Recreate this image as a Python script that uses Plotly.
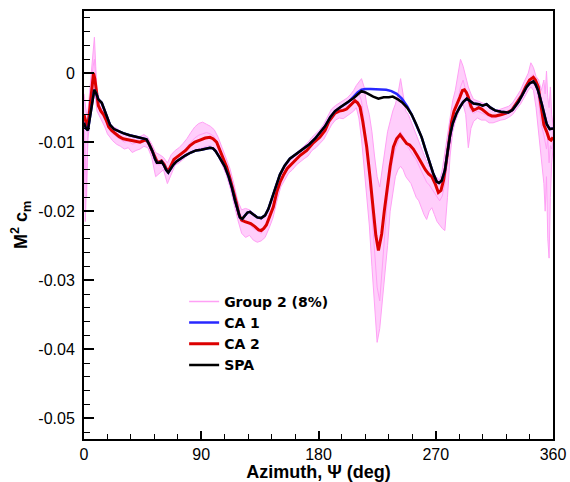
import plotly.graph_objects as go

# ---------------- data ----------------
SPA_AZ = [0, 1.5, 3, 4.5, 6, 7.9, 9.5, 11, 13.6, 16, 18, 20, 23, 26, 30, 35, 40, 45, 48, 50,
          52.5, 54.5, 56, 57.5, 59.5, 61.5, 63, 64.7, 66.5, 68.5, 71, 74, 78, 82, 86, 90, 93,
          96.7, 99, 101, 104, 108, 111, 113.4, 116, 118, 119.7, 121.5, 123.5, 125.5, 127.4,
          130, 133, 136, 139, 141.5, 144, 147, 150.4, 154, 158, 163, 168, 173, 177.3, 181,
          185, 189, 192.7, 197, 202.9, 207, 210, 213, 216, 218.5, 222, 226, 230, 234, 237,
          241, 244, 248, 251.5, 255, 259.2, 262, 265.6, 268, 270.7, 272.5, 274.5, 277, 279,
          281, 283, 286, 288.6, 291, 293.8, 296, 299, 303, 306, 309, 312, 315.5, 320, 325.7,
          329, 333.4, 337, 339.8, 342, 344.9, 346.5, 348.5, 351.3, 353.5, 355.2, 357.5, 360]
SPA_CM = [-0.0072, -0.0080, -0.0083, -0.0065, -0.0040, -0.0024, -0.0030, -0.0038, -0.0043,
          -0.0055, -0.0066, -0.0075, -0.0081, -0.0084, -0.0087, -0.0090, -0.0092, -0.0094,
          -0.0096, -0.0103, -0.0113, -0.0124, -0.0130, -0.0130, -0.0128, -0.0134, -0.0140,
          -0.0144, -0.0138, -0.0133, -0.0128, -0.0124, -0.0119, -0.0115, -0.0112, -0.0111,
          -0.0110, -0.0108, -0.0109, -0.0113, -0.0122, -0.0135, -0.0150, -0.0165, -0.0185,
          -0.0200, -0.0209, -0.0211, -0.0207, -0.0202, -0.0201, -0.0205, -0.0209, -0.0210,
          -0.0206, -0.0197, -0.0184, -0.0166, -0.0147, -0.0134, -0.0124, -0.0117, -0.0110,
          -0.0103, -0.0095, -0.0087, -0.0077, -0.0064, -0.0055, -0.0049, -0.0042, -0.0036,
          -0.0031, -0.0026, -0.0028, -0.0031, -0.0034, -0.0037, -0.0035, -0.0035, -0.0034,
          -0.0038, -0.0042, -0.0050, -0.0060, -0.0074, -0.0093, -0.0110, -0.0131, -0.0145,
          -0.0157, -0.0159, -0.0156, -0.0141, -0.0115, -0.0090, -0.0073, -0.0058, -0.0049,
          -0.0042, -0.0037, -0.0040, -0.0044, -0.0045, -0.0047, -0.0045, -0.0050, -0.0054,
          -0.0056, -0.0057, -0.0053, -0.0042, -0.0030, -0.0020, -0.0015, -0.0012, -0.0016,
          -0.0025, -0.0044, -0.0062, -0.0074, -0.0081, -0.0080]

CA1_AZ = [0, 1.5, 3, 4.5, 6, 7.9, 9.5, 11, 13.6, 16, 18, 20, 23, 26, 30, 35, 40, 45, 48, 50,
          52.5, 54.5, 56, 57.5, 59.5, 61.5, 63, 64.7, 66.5, 68.5, 71, 74, 78, 82, 86, 90, 93,
          96.7, 99, 101, 104, 108, 111, 113.4, 116, 118, 119.7, 121.5, 123.5, 125.5, 127.4,
          130, 133, 136, 139, 141.5, 144, 147, 150.4, 154, 158, 163, 168, 173, 177.3, 181,
          185, 189, 192.7, 197, 202.9, 207, 210, 213, 216, 220, 224, 228, 232, 236, 240,
          244, 248, 251.5, 255, 259.2, 262, 265.6, 268, 270.7, 272.5, 274.5, 277, 279,
          281, 283, 286, 288.6, 291, 293.8, 296, 299, 303, 306, 309, 312, 315.5, 320, 325.7,
          329, 333.4, 337, 339.8, 342, 344.9, 346.5, 348.5, 351.3, 353.5, 355.2, 357.5, 360]
CA1_CM = [-0.0072, -0.0080, -0.0083, -0.0065, -0.0040, -0.0024, -0.0030, -0.0038, -0.0043,
          -0.0055, -0.0066, -0.0075, -0.0081, -0.0084, -0.0087, -0.0090, -0.0092, -0.0094,
          -0.0096, -0.0103, -0.0113, -0.0124, -0.0130, -0.0130, -0.0128, -0.0134, -0.0140,
          -0.0144, -0.0138, -0.0133, -0.0128, -0.0124, -0.0119, -0.0115, -0.0112, -0.0111,
          -0.0110, -0.0108, -0.0109, -0.0113, -0.0122, -0.0135, -0.0150, -0.0165, -0.0185,
          -0.0200, -0.0209, -0.0211, -0.0207, -0.0202, -0.0201, -0.0205, -0.0209, -0.0210,
          -0.0206, -0.0197, -0.0184, -0.0166, -0.0147, -0.0134, -0.0124, -0.0117, -0.0110,
          -0.0103, -0.0095, -0.0087, -0.0077, -0.0064, -0.0055, -0.0049, -0.0042, -0.0034,
          -0.0028, -0.0024, -0.0023, -0.0023, -0.0023, -0.0024, -0.0024, -0.0026, -0.0030,
          -0.0037, -0.0048, -0.0060, -0.0074, -0.0093, -0.0110, -0.0131, -0.0145,
          -0.0157, -0.0159, -0.0156, -0.0141, -0.0115, -0.0090, -0.0073, -0.0058, -0.0049,
          -0.0042, -0.0037, -0.0040, -0.0044, -0.0045, -0.0047, -0.0045, -0.0050, -0.0054,
          -0.0056, -0.0057, -0.0053, -0.0042, -0.0030, -0.0020, -0.0015, -0.0012, -0.0016,
          -0.0025, -0.0044, -0.0062, -0.0074, -0.0081, -0.0080]

CA2_AZ = [0, 1.5, 2.7, 4, 5.5, 6.5, 7.3, 8.3, 9.5, 11, 13, 15, 17, 19, 21.2, 24, 27, 30, 35,
          40, 43, 46.8, 48.5, 50, 52.5, 54.5, 56, 57.5, 59.5, 61.5, 63.5, 65, 67, 69, 71, 74,
          78, 81.4, 85, 89, 93, 96.7, 99, 101.8, 104, 107, 109.5, 112, 114.6, 117, 119, 121,
          123.5, 126, 128, 131, 134, 136, 138, 140, 142.5, 145.3, 148, 150.5, 153, 156, 160.7,
          166, 171, 176, 181, 185, 188, 192.7, 196, 199, 201.6, 204, 206, 208, 210, 211.9,
          214, 217, 219.5, 222.1, 224, 226, 227.3, 228.5, 230.5, 232.4, 235, 237.5, 240,
          242.6, 245, 247.7, 250, 252.8, 256, 259.2, 262, 264.5, 267, 269.5, 272, 274, 276,
          278, 280, 282.2, 284, 286, 288.5, 290.5, 292, 293.5, 295, 297, 298.8, 301, 303,
          305.3, 308, 310.5, 313, 316, 320.6, 324, 328.3, 331, 334, 336, 339, 342, 344.9,
          346.5, 348.7, 350, 351.3, 353, 355.2, 357, 358.5, 360]
CA2_CM = [-0.0060, -0.0070, -0.0080, -0.0060, -0.0030, -0.0008, 0.0000, -0.0008, -0.0030,
          -0.0047, -0.0055, -0.0060, -0.0068, -0.0078, -0.0083, -0.0088, -0.0092, -0.0095,
          -0.0097, -0.0099, -0.0100, -0.0097, -0.0098, -0.0103, -0.0113, -0.0122, -0.0128,
          -0.0129, -0.0127, -0.0132, -0.0140, -0.0141, -0.0132, -0.0125, -0.0122, -0.0118,
          -0.0112, -0.0105, -0.0100, -0.0097, -0.0094, -0.0093, -0.0095, -0.0100, -0.0110,
          -0.0125, -0.0136, -0.0152, -0.0170, -0.0188, -0.0205, -0.0213, -0.0215, -0.0217,
          -0.0218, -0.0222, -0.0227, -0.0228, -0.0225, -0.0220, -0.0208, -0.0194, -0.0172,
          -0.0158, -0.0148, -0.0138, -0.0129, -0.0119, -0.0112, -0.0101, -0.0093, -0.0083,
          -0.0070, -0.0058, -0.0055, -0.0054, -0.0052, -0.0048, -0.0044, -0.0040, -0.0043,
          -0.0049, -0.0070, -0.0107, -0.0150, -0.0204, -0.0235, -0.0257, -0.0245, -0.0233,
          -0.0200, -0.0170, -0.0135, -0.0107, -0.0095, -0.0089, -0.0095, -0.0102, -0.0104,
          -0.0110, -0.0120, -0.0131, -0.0140, -0.0146, -0.0150, -0.0160, -0.0173, -0.0170,
          -0.0155, -0.0130, -0.0100, -0.0070, -0.0055, -0.0047, -0.0035, -0.0025, -0.0024,
          -0.0028, -0.0035, -0.0048, -0.0054, -0.0052, -0.0050, -0.0052, -0.0056, -0.0060,
          -0.0062, -0.0062, -0.0060, -0.0058, -0.0054, -0.0046, -0.0038, -0.0032, -0.0020,
          -0.0010, -0.0006, -0.0010, -0.0020, -0.0038, -0.0059, -0.0075, -0.0085, -0.0095,
          -0.0097, -0.0093]

# Group 2 (8%) : individual thin traces
G2_AZ = [0, 1, 2, 3, 4, 5, 6, 7, 8, 9, 10, 12, 14, 16, 18, 20, 22,
         25, 28, 31, 34, 37, 40, 43, 46, 49, 52, 55, 58, 61, 64, 67, 70, 73, 76, 79,
         82, 85, 88, 91, 94, 97, 100, 103, 106, 109, 112, 115, 118, 121, 124, 127, 130,
         133, 136, 139, 142, 145, 148, 151, 154, 157, 160, 163, 166, 169, 172, 175, 178,
         181, 184, 187, 190, 193, 196, 199, 202, 205,
         207, 209, 211, 213, 215, 217, 219, 221, 223, 225, 227, 229, 231, 233, 235, 237,
         239, 241, 243, 245, 247, 249, 251, 253, 255, 257, 259, 261, 263, 265, 267, 269,
         271, 273, 275, 277, 279, 281, 283, 285, 287, 289, 291, 293, 295, 297, 299,
         302, 305, 308, 311, 314, 317, 320, 323, 326, 329, 332, 335, 338, 341,
         343, 345, 347, 349, 351, 353, 354, 355, 356, 357, 358, 359, 360]
G2_A = [-0.0030, -0.0045, -0.0060, -0.0055, -0.0035, -0.0010, 0.0015, 0.0035, 0.0052, 0.0010, -0.0025,
        -0.0040, -0.0045, -0.0052, -0.0062, -0.0072, -0.0078,
        -0.0080, -0.0085, -0.0088, -0.0089, -0.0090, -0.0091, -0.0092, -0.0089, -0.0093,
        -0.0103, -0.0115, -0.0118, -0.0122, -0.0130, -0.0118, -0.0112, -0.0108, -0.0102, -0.0095,
        -0.0086, -0.0078, -0.0073, -0.0071, -0.0074, -0.0077, -0.0082, -0.0093, -0.0108, -0.0122,
        -0.0138, -0.0160, -0.0185, -0.0198, -0.0196, -0.0198, -0.0203, -0.0208, -0.0212, -0.0205,
        -0.0192, -0.0178, -0.0158, -0.0145, -0.0135, -0.0128, -0.0122, -0.0116, -0.0111, -0.0106,
        -0.0100, -0.0093, -0.0088, -0.0082, -0.0074, -0.0062, -0.0052, -0.0047, -0.0043, -0.0040,
        -0.0036, -0.0030,
        -0.0025, -0.0018, -0.0012, -0.0008, -0.0020, -0.0045, -0.0060, -0.0085, -0.0120, -0.0150,
        -0.0165, -0.0140, -0.0110, -0.0085, -0.0070, -0.0055, -0.0045, -0.0030, -0.0008, -0.0035,
        -0.0055, -0.0060, -0.0070, -0.0080, -0.0090, -0.0100, -0.0110, -0.0120, -0.0128, -0.0135,
        -0.0140, -0.0148, -0.0152, -0.0155, -0.0140, -0.0115, -0.0085, -0.0060, -0.0040, -0.0025,
        -0.0005, 0.0020, 0.0010, -0.0005, -0.0020, -0.0030, -0.0038,
        -0.0040, -0.0042, -0.0045, -0.0050, -0.0054, -0.0054, -0.0052, -0.0051, -0.0048, -0.0043,
        -0.0034, -0.0025, -0.0012, 0.0000,
        0.0015, 0.0008, -0.0005, -0.0010, -0.0025, -0.0010,
        -0.0030, 0.0003, -0.0035, -0.0050, -0.0020, -0.0060, -0.0075]
G2_B = [-0.0085, -0.0215, -0.0150, -0.0095, -0.0080, -0.0050, -0.0035, -0.0015, -0.0025, -0.0040, -0.0055,
        -0.0062, -0.0070, -0.0078, -0.0088, -0.0093, -0.0098,
        -0.0103, -0.0106, -0.0110, -0.0108, -0.0115, -0.0112, -0.0110, -0.0106, -0.0108,
        -0.0122, -0.0150, -0.0145, -0.0140, -0.0160, -0.0148, -0.0133, -0.0130, -0.0125, -0.0120,
        -0.0115, -0.0112, -0.0110, -0.0108, -0.0106, -0.0105, -0.0110, -0.0120, -0.0132, -0.0146,
        -0.0165, -0.0188, -0.0212, -0.0232, -0.0238, -0.0235, -0.0242, -0.0245, -0.0243, -0.0238,
        -0.0225, -0.0210, -0.0186, -0.0165, -0.0155, -0.0145, -0.0140, -0.0133, -0.0128, -0.0124,
        -0.0120, -0.0112, -0.0108, -0.0102, -0.0096, -0.0085, -0.0075, -0.0068, -0.0065, -0.0066,
        -0.0062, -0.0058,
        -0.0055, -0.0050, -0.0065, -0.0095, -0.0130, -0.0175, -0.0220, -0.0280, -0.0340, -0.0390,
        -0.0370, -0.0340, -0.0290, -0.0250, -0.0200, -0.0175, -0.0150, -0.0140, -0.0135, -0.0140,
        -0.0150, -0.0155, -0.0160, -0.0170, -0.0180, -0.0185, -0.0195, -0.0205, -0.0212, -0.0200,
        -0.0195, -0.0205, -0.0215, -0.0220, -0.0225, -0.0228, -0.0180, -0.0120, -0.0085, -0.0070,
        -0.0060, -0.0050, -0.0045, -0.0060, -0.0108, -0.0080, -0.0070,
        -0.0065, -0.0068, -0.0068, -0.0072, -0.0072, -0.0070, -0.0068, -0.0067, -0.0064, -0.0060,
        -0.0052, -0.0045, -0.0035, -0.0025,
        -0.0020, -0.0025, -0.0050, -0.0080, -0.0120, -0.0160,
        -0.0200, -0.0150, -0.0240, -0.0268, -0.0180, -0.0130, -0.0110]
G2_C = [-0.0065, -0.0110, -0.0180, -0.0085, -0.0070, -0.0030, -0.0005, 0.0010, 0.0020, -0.0015, -0.0035,
        -0.0048, -0.0055, -0.0060, -0.0070, -0.0082, -0.0088,
        -0.0092, -0.0096, -0.0100, -0.0098, -0.0103, -0.0101, -0.0098, -0.0096, -0.0102,
        -0.0115, -0.0132, -0.0133, -0.0128, -0.0145, -0.0138, -0.0126, -0.0120, -0.0113, -0.0106,
        -0.0100, -0.0094, -0.0090, -0.0088, -0.0086, -0.0088, -0.0092, -0.0103, -0.0117, -0.0132,
        -0.0150, -0.0172, -0.0198, -0.0216, -0.0214, -0.0220, -0.0225, -0.0228, -0.0232, -0.0225,
        -0.0212, -0.0196, -0.0175, -0.0157, -0.0146, -0.0138, -0.0131, -0.0125, -0.0120, -0.0116,
        -0.0112, -0.0104, -0.0097, -0.0091, -0.0085, -0.0075, -0.0064, -0.0057, -0.0053, -0.0052,
        -0.0048, -0.0044,
        -0.0038, -0.0035, -0.0030, -0.0040, -0.0070, -0.0100, -0.0150, -0.0200, -0.0260, -0.0310,
        -0.0330, -0.0280, -0.0220, -0.0180, -0.0150, -0.0125, -0.0110, -0.0100, -0.0085, -0.0092,
        -0.0098, -0.0108, -0.0115, -0.0120, -0.0125, -0.0135, -0.0142, -0.0150, -0.0158, -0.0162,
        -0.0168, -0.0172, -0.0180, -0.0185, -0.0178, -0.0160, -0.0125, -0.0090, -0.0065, -0.0050,
        -0.0040, -0.0020, -0.0010, -0.0025, -0.0045, -0.0055, -0.0058,
        -0.0055, -0.0057, -0.0060, -0.0063, -0.0065, -0.0064, -0.0062, -0.0060, -0.0058, -0.0054,
        -0.0045, -0.0036, -0.0025, -0.0015,
        -0.0005, -0.0002, -0.0015, -0.0040, -0.0075, -0.0090,
        -0.0100, -0.0110, -0.0095, -0.0130, -0.0105, -0.0110, -0.0100]

X_TICKS = [0, 90, 180, 270, 360]
X_TICK_LABELS = ["0", "90", "180", "270", "360"]
Y_TICKS = [-0.05, -0.04, -0.03, -0.02, -0.01, 0]
Y_TICK_LABELS = ["-0.05", "-0.04", "-0.03", "-0.02", "-0.01", "0"]

PINK = "rgb(255,160,245)"
PINK_FILL = "rgba(255,165,248,0.55)"
FONT = "Liberation Sans, Arial, sans-serif"

fig = go.Figure()
# spread of the Group 2 runs: closed outline upper run -> lower run (reversed)
fig.add_trace(go.Scatter(x=G2_AZ + G2_AZ[::-1], y=G2_A + G2_B[::-1], mode="lines",
                         name="Group 2 spread", showlegend=False, fill="toself",
                         fillcolor=PINK_FILL, line=dict(color=PINK, width=1), hoverinfo="skip"))
fig.add_trace(go.Scatter(x=G2_AZ, y=G2_C, mode="lines", name="Group 2 run",
                         showlegend=False, line=dict(color=PINK, width=1)))
fig.add_trace(go.Scatter(x=CA2_AZ, y=CA2_CM, mode="lines", name="CA 2", legendrank=3,
                         line=dict(color="rgb(220,0,0)", width=3)))
fig.add_trace(go.Scatter(x=CA1_AZ, y=CA1_CM, mode="lines", name="CA 1", legendrank=2,
                         line=dict(color="rgb(40,40,255)", width=2.5)))
fig.add_trace(go.Scatter(x=SPA_AZ, y=SPA_CM, mode="lines", name="SPA", legendrank=4,
                         line=dict(color="black", width=2.5)))
# legend-only entry for the Group 2 runs (no data drawn)
fig.add_trace(go.Scatter(x=[None], y=[None], mode="lines", name="Group 2 (8%)",
                         legendrank=1, line=dict(color=PINK, width=1.5)))

fig.update_layout(
    width=570, height=482,
    margin=dict(l=84, r=17, t=11, b=43),
    paper_bgcolor="white", plot_bgcolor="white",
    font=dict(family=FONT, size=16, color="black"),
    showlegend=True,
    legend=dict(x=0.2135, y=0.358, xanchor="left", yanchor="top", traceorder="normal",
                bgcolor="rgba(0,0,0,0)", borderwidth=0, tracegroupgap=0,
                font=dict(family="DejaVu Sans, sans-serif", size=14, weight="bold", color="black")),
)
fig.update_xaxes(
    range=[0, 360], tickmode="array", tickvals=X_TICKS, ticktext=X_TICK_LABELS,
    ticks="inside", ticklen=8, tickwidth=2, tickcolor="black",
    showline=True, linewidth=2, linecolor="black", mirror=True,
    showgrid=False, zeroline=False,
    minor=dict(ticks="inside", dtick=18, tick0=0, ticklen=5, tickwidth=1, tickcolor="black", showgrid=False),
    title=dict(text="Azimuth, Ψ (deg)", font=dict(size=18, weight="bold"), standoff=0),
    automargin=False,
)
fig.update_yaxes(
    range=[-0.053, 0.009], tickmode="array", tickvals=Y_TICKS, ticktext=Y_TICK_LABELS,
    ticks="inside", ticklen=10, tickwidth=2, tickcolor="black",
    showline=True, linewidth=2, linecolor="black", mirror=True,
    showgrid=False, zeroline=False, ticklabelstandoff=4,
    minor=dict(ticks="inside", dtick=0.002, tick0=0, ticklen=6, tickwidth=1, tickcolor="black", showgrid=False),
    title=dict(text="M<sup>2</sup> c<sub>m</sub>", font=dict(size=18, weight="bold"), standoff=6),
    automargin=False,
)

fig.write_html("out.html", config={"displayModeBar": False},
               post_script="document.body.style.margin='0px';document.body.style.overflow='hidden';")
